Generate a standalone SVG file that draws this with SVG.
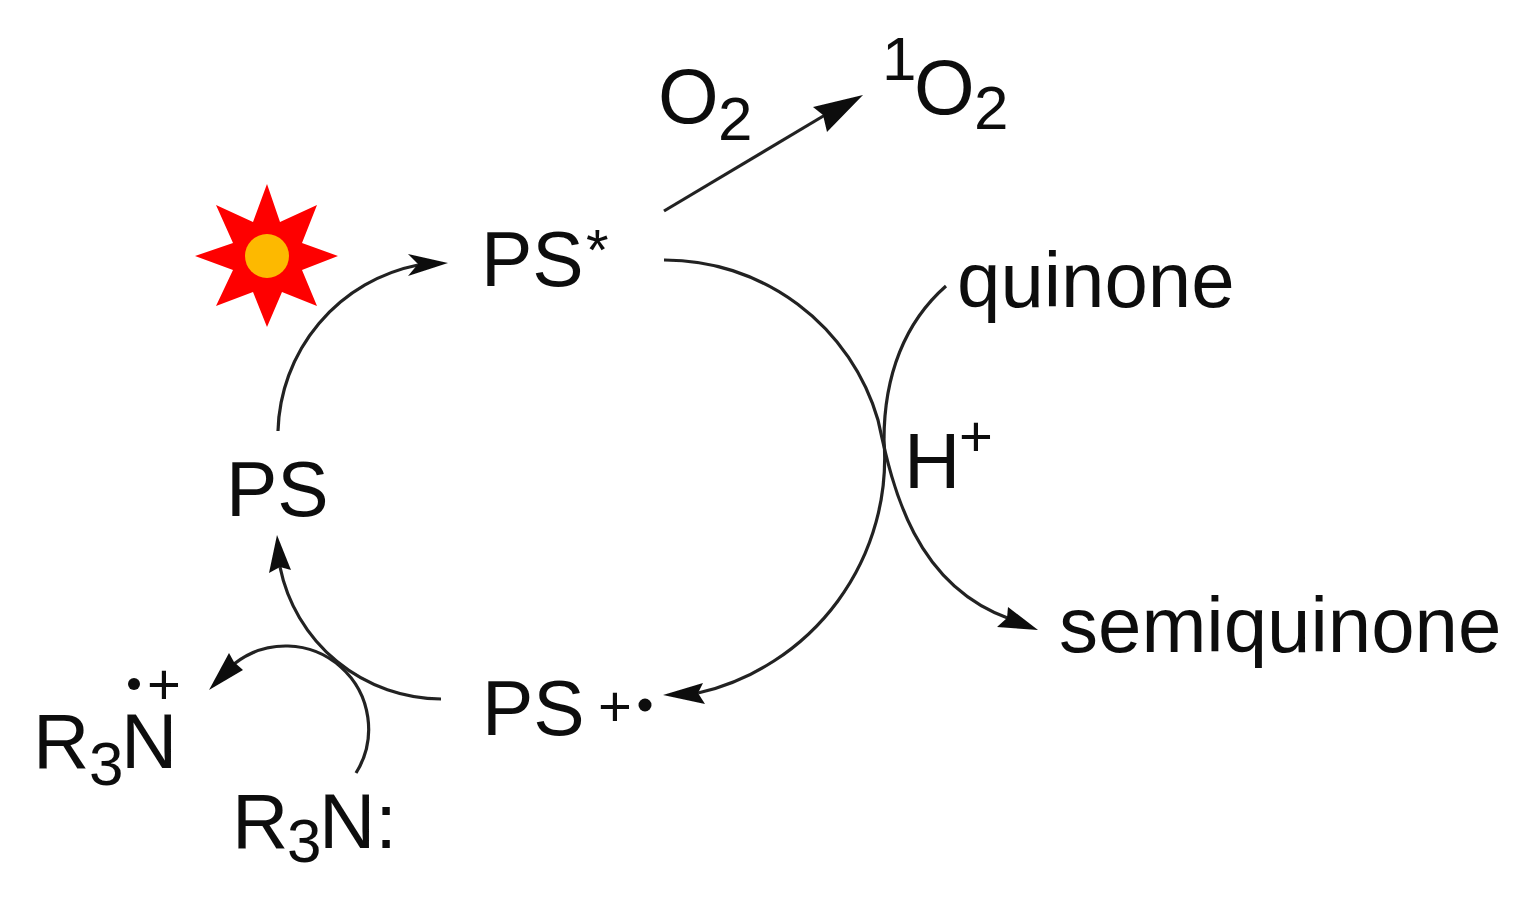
<svg xmlns="http://www.w3.org/2000/svg" width="1538" height="898" viewBox="0 0 1538 898">
<style>
text{font-family:"Liberation Sans",Arial,sans-serif;font-size:78px;fill:#111}
.s{font-size:62px}
.p{font-size:58px}
.m{font-size:77px}
.c{fill:none;stroke:#222;stroke-width:3.2}
.a{fill:#111;stroke:none}
</style>
<defs><filter id="soft" x="0" y="0" width="1538" height="898" filterUnits="userSpaceOnUse"><feGaussianBlur stdDeviation="0.7"/></filter></defs>
<rect width="1538" height="898" fill="#fff"/>
<g filter="url(#soft)">
<g id="connectors">
<path class="c" d="M664 211L825 115"/><path class="a" d="M863 95L813 107L823 115L827 132Z"/>
<path class="c" d="M278 431A174 174 0 0 1 418 265"/><path class="a" d="M448 263L408 254L418 264L408 276Z"/>
<path class="c" d="M664 260A222 222 0 0 1 878 420C893 490 915 585 1010 619"/><path class="a" d="M1038 630L1008 607L1007 618L997 627Z"/>
<path class="c" d="M946 286C905 322 884 375 884 440A241 241 0 0 1 698 693"/><path class="a" d="M663 695L703 683L698 693L705 704Z"/>
<path class="c" d="M441 699A165 165 0 0 1 280 567"/><path class="a" d="M277 535L269 573L280 567L291 570Z"/>
<path class="c" d="M356 773A83 83 0 0 0 234 664"/><path class="a" d="M209 690L229 653L234 662L243 670Z"/>
</g>
<g id="star"><polygon fill="#fe0000" points="267,184 280,222 317,205 302,243 338,256 302,270 317,306 282,292 267,327 253,292 216,306 233,270 195,256 233,243 216,205 253,222"/><circle cx="267" cy="256" r="22" fill="#fdb900"/></g>
<g id="o2"><text x="658" y="123">O</text><text x="718" y="140" class="s">2</text></g>
<g id="singlet"><text x="882" y="80" class="s">1</text><text x="914" y="114">O</text><text x="974" y="129" class="s">2</text></g>
<g id="ps-star"><text x="481" y="286" class="m">PS</text><text x="586" y="270" class="p">*</text></g>
<g id="quinone"><text x="957" y="307">quinone</text></g>
<g id="hplus"><text x="904" y="488">H</text><text x="959" y="456" class="p">+</text></g>
<g id="ps"><text x="226" y="516" class="m">PS</text></g>
<g id="semiquinone"><text x="1059" y="652">semiquinone</text></g>
<g id="ps-radical"><text x="482" y="735" class="m">PS</text><text x="598" y="726" class="p">+</text><circle cx="645" cy="705" r="6.500" fill="#111"/></g>
<g id="amine-radical"><text x="33" y="768">R</text><text x="89" y="785" class="s">3</text><text x="121" y="768">N</text><circle cx="134" cy="684" r="6" fill="#111"/><text x="147" y="704" class="p">+</text></g>
<g id="amine"><text x="232" y="848">R</text><text x="287" y="862" class="s">3</text><text x="319" y="848">N:</text></g>
</g>
</svg>
